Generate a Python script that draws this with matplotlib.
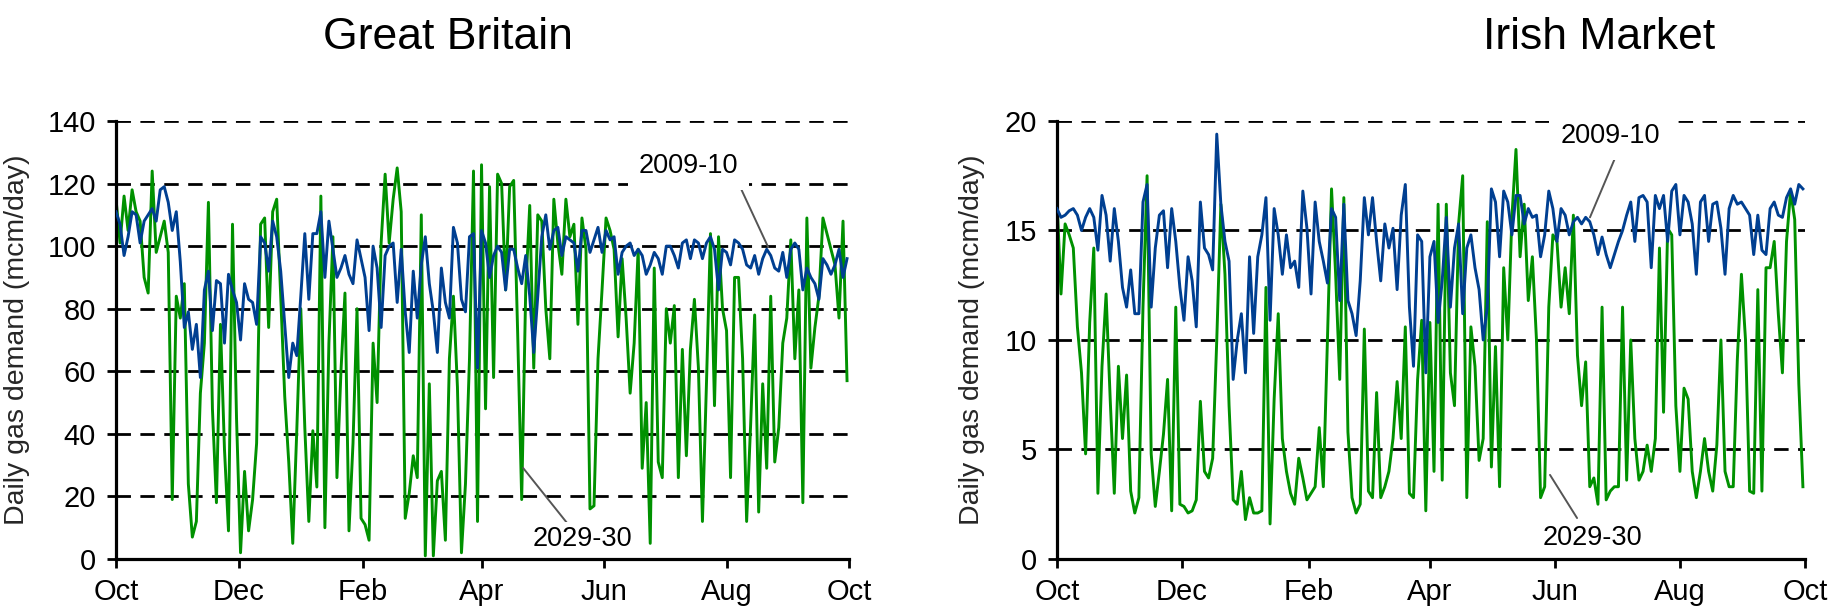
import matplotlib
matplotlib.use("Agg")
import matplotlib.pyplot as plt
import numpy as np
import pandas as pd

plt.rcParams["font.family"] = ["Liberation Sans", "DejaVu Sans"]

# every second day from 1 Oct to 30 Sep
start = pd.Timestamp("2009-10-01")
days = np.arange(0, 365, 2)

gb_2009 = [
    111, 107, 97, 103, 111, 110, 101, 108, 110, 112, 108, 118, 119, 114, 105, 111,
    95, 74, 79, 67, 75, 58, 86, 92, 73, 89, 88, 69, 91, 86, 82, 70, 88, 83, 82, 75,
    103, 101, 92, 108, 103, 92, 75, 58, 69, 65,
    84, 104, 83, 104, 104, 111, 90, 108, 99, 90, 93, 97, 91, 88, 102, 96, 90, 73,
    100, 93, 74, 97, 100, 101, 82, 99, 79, 66, 92, 77, 94, 103, 88, 79, 66, 93, 82,
    77, 106, 101, 83, 79, 103, 104, 61, 105,
    101, 90, 97, 100, 98, 86, 99, 99, 93, 88, 97, 84, 66, 84, 103, 110, 99, 105, 106,
    97, 103, 102, 101, 92, 105, 105, 98, 102, 106, 98, 105, 102, 103, 91, 98, 100,
    101, 97, 99, 97, 91, 94, 98, 96, 91, 100,
    100, 97, 93, 101, 102, 96, 102, 101, 96, 101, 103, 99, 86, 99, 98, 94, 102, 101,
    99, 94, 93, 97, 91, 96, 99, 97, 93, 92, 98, 90, 99, 101, 99, 86, 93, 90, 88, 83,
    96, 94, 91, 94, 99, 90, 96,
]
gb_2029 = [
    115, 101, 116, 105, 118, 111, 108, 90, 85, 124, 98, 103, 108, 98, 19, 84, 77, 88,
    24, 7, 12, 53, 69, 114, 48, 18, 75, 35, 9, 107, 45, 2, 28, 9, 19, 37, 107, 109,
    74, 111, 115, 84, 52, 31, 5, 41,
    80, 42, 12, 41, 23, 116, 10, 69, 103, 26, 60, 85, 9, 37, 80, 13, 11, 6, 69, 50,
    101, 123, 101, 115, 125, 111, 13, 21, 33, 26, 110, 1, 56, 1, 25, 28, 6, 64, 84,
    55, 2, 24, 64, 124, 12, 126,
    48, 119, 58, 123, 120, 86, 119, 121, 72, 19, 86, 113, 61, 110, 108, 80, 64, 115,
    101, 91, 115, 103, 107, 75, 109, 99, 16, 17, 64, 86, 109, 105, 99, 71, 96, 77,
    53, 69, 99, 29, 50, 5, 93, 31, 26, 80,
    69, 81, 26, 67, 33, 67, 83, 61, 12, 56, 104, 49, 103, 80, 73, 26, 90, 90, 64, 12,
    43, 78, 15, 56, 29, 84, 31, 42, 69, 77, 102, 64, 86, 18, 109, 61, 74, 84, 109,
    104, 99, 94, 77, 108, 57,
]
ie_2009 = [
    16.0, 15.6, 15.7, 15.9, 16.0, 15.7, 15.0, 15.6, 16.0, 15.6, 14.1, 16.6, 15.7,
    13.6, 16.0, 14.5, 12.4, 11.5, 13.2, 11.2, 11.2, 16.3, 17.1, 11.5, 14.2, 15.7,
    15.9, 13.3, 16.0, 14.5, 12.4, 10.9, 13.8, 12.7, 10.6, 16.3, 14.2, 13.9, 13.2,
    19.4, 16.2, 14.5, 13.6, 8.2, 10.0, 11.2,
    8.5, 13.8, 10.3, 13.8, 14.8, 16.5, 10.9, 16.0, 14.8, 13.0, 14.8, 13.3, 13.6,
    12.4, 16.8, 15.1, 12.1, 16.3, 14.5, 13.6, 12.6, 16.0, 15.6, 11.8, 16.2, 11.8,
    11.2, 10.2, 12.7, 16.5, 14.8, 16.5, 14.5, 12.7, 15.3, 14.2, 15.1, 12.3, 15.7,
    17.1, 11.5, 8.8, 14.8, 14.5, 8.5, 13.8,
    14.5, 10.8, 12.7, 15.6, 11.5, 14.2, 15.3, 11.2, 14.2, 14.8, 13.3, 12.3, 10.0,
    11.5, 16.9, 16.3, 13.8, 16.8, 16.3, 14.8, 16.6, 16.6, 15.3, 16.0, 15.6, 15.7,
    13.8, 14.8, 16.8, 16.0, 14.5, 16.0, 15.7, 14.8, 15.4, 15.6, 15.3, 15.6, 15.4,
    14.8, 13.9, 14.7, 13.9, 13.3, 13.9, 14.5,
    15.0, 15.7, 16.3, 14.5, 16.5, 16.6, 16.3, 13.3, 16.6, 16.0, 16.6, 14.5, 16.8,
    17.1, 14.8, 16.6, 16.3, 15.3, 13.0, 16.3, 16.6, 14.5, 16.2, 16.3, 15.1, 13.0,
    16.0, 16.6, 16.2, 16.3, 16.0, 15.7, 13.9, 15.7, 14.1, 13.9, 16.0, 16.3, 15.7,
    15.6, 16.5, 16.9, 16.2, 17.1, 16.9,
]
ie_2029 = [
    16.5, 12.1, 15.3, 14.8, 14.2, 10.6, 8.5, 4.8, 10.8, 14.2, 3.0, 8.8, 12.1, 7.3,
    3.0, 8.8, 5.5, 8.4, 3.1, 2.1, 2.8, 11.5, 17.5, 4.8, 2.4, 4.0, 5.7, 8.2, 2.2,
    11.5, 2.5, 2.4, 2.1, 2.2, 2.7, 7.2, 4.0, 3.7, 4.6, 10.0, 16.2, 13.0, 7.0, 2.7,
    2.5, 4.0,
    1.8, 2.8, 2.1, 2.1, 2.2, 12.4, 1.6, 7.3, 11.2, 5.5, 4.0, 3.0, 2.5, 4.6, 3.7,
    2.7, 3.0, 3.3, 6.0, 3.3, 10.0, 16.9, 13.0, 8.2, 16.5, 5.8, 2.8, 2.1, 2.5, 10.5,
    3.1, 2.8, 7.6, 2.8, 3.3, 4.0, 5.5, 8.1, 5.5, 10.6, 3.0, 2.8, 8.2, 10.9, 2.2,
    10.8,
    4.0, 16.2, 3.6, 16.2, 8.5, 7.0, 15.3, 17.5, 2.8, 10.6, 8.8, 4.5, 5.5, 15.4, 4.2,
    9.7, 3.3, 13.3, 10.0, 15.6, 18.7, 13.8, 16.2, 11.8, 13.8, 10.0, 2.8, 3.3, 11.5,
    14.8, 14.5, 11.5, 13.3, 11.2, 15.7, 9.3, 7.0, 9.0, 3.3, 3.7, 2.5, 11.5, 2.7,
    3.1, 3.3, 3.3,
    11.5, 3.6, 10.0, 5.5, 3.6, 4.0, 5.2, 4.0, 5.5, 14.2, 6.7, 15.1, 14.8, 7.0, 4.0,
    7.8, 7.3, 4.0, 2.8, 4.0, 5.5, 4.0, 3.1, 5.2, 10.0, 4.0, 3.3, 3.3, 9.1, 13.0,
    10.0, 3.1, 3.0, 12.3, 3.1, 13.3, 13.3, 14.5, 11.2, 8.5, 14.5, 16.8, 15.5, 8.0,
    3.3,
]

titles = ["Great Britain", "Irish Market"]
y_max = [140, 20]
y_step = [20, 5]
series_labels = ["2009-10", "2029-30"]

# label text centre, line start, line tip (day, value) for each panel
label_pos = [
    {"2009-10": ((285, 125.6), (310.8, 118.9), (324.7, 99.7)),
     "2029-30": ((232, 6.4), (224.6, 11.5), (202.7, 29.1))},
    {"2009-10": ((269.9, 19.3), (272.3, 18.3), (260.1, 15.6)),
     "2029-30": ((261.1, 0.96), (253.8, 1.87), (240.6, 3.84))},
]

month_starts = pd.date_range("2009-10-01", "2010-10-01", freq="2MS")
tick_days = (month_starts - start).days
tick_labels = [d.strftime("%b") for d in month_starts]

blue = "#003f91"
green = "#009100"

fig = plt.figure(figsize=(18.33, 6.11), dpi=100)
ax_rects = [[0.0633, 0.0851, 0.3999, 0.7169], [0.5766, 0.0851, 0.4081, 0.7169]]
label_x = [-0.117, -0.096]
title_x = [448 / 1833, 1599 / 1833]

data = [(gb_2009, gb_2029), (ie_2009, ie_2029)]

for i in range(2):
    ax = fig.add_axes(ax_rects[i])
    old, new = data[i]
    ax.plot(days, new, color=green, lw=2.1, zorder=2)
    ax.plot(days, old, color=blue, lw=2.1, zorder=3)

    ax.set_xlim(0, 365)
    ax.set_ylim(0, y_max[i])
    ax.set_xticks(tick_days)
    ax.set_xticklabels(tick_labels)
    ax.set_yticks(np.arange(0, y_max[i] + 1, y_step[i]))
    ax.yaxis.grid(True, color="black", lw=2.0, linestyle=(0, (5.2, 3.4)))
    ax.set_axisbelow(True)

    for side in ["top", "right"]:
        ax.spines[side].set_visible(False)
    for side in ["left", "bottom"]:
        ax.spines[side].set_linewidth(2.3)
    ax.tick_params(axis="both", direction="out", length=6.5, width=2.0,
                   labelsize=21, colors="black")
    ax.tick_params(axis="y", pad=8)
    ax.tick_params(axis="x", pad=7)

    ax.set_ylabel("Daily gas demand (mcm/day)", fontsize=20.5, color="#262626")
    ax.yaxis.set_label_coords(label_x[i], 0.5)

    fig.text(title_x[i], 1 - 49 / 611, titles[i], fontsize=32, ha="center",
             va="baseline")

    for name in series_labels:
        txt, line_start, tip = label_pos[i][name]
        ax.annotate("", xy=tip, xytext=line_start,
                    arrowprops=dict(arrowstyle="-", color="#555555", lw=1.4,
                                    shrinkA=0, shrinkB=0), zorder=4)
        pad = 8 if name == "2009-10" else 3
        ax.text(txt[0], txt[1], name, fontsize=19.5, ha="center", va="center",
                zorder=5,
                bbox=dict(facecolor="white", edgecolor="none", pad=pad))

fig.savefig("out.png", dpi=100)
